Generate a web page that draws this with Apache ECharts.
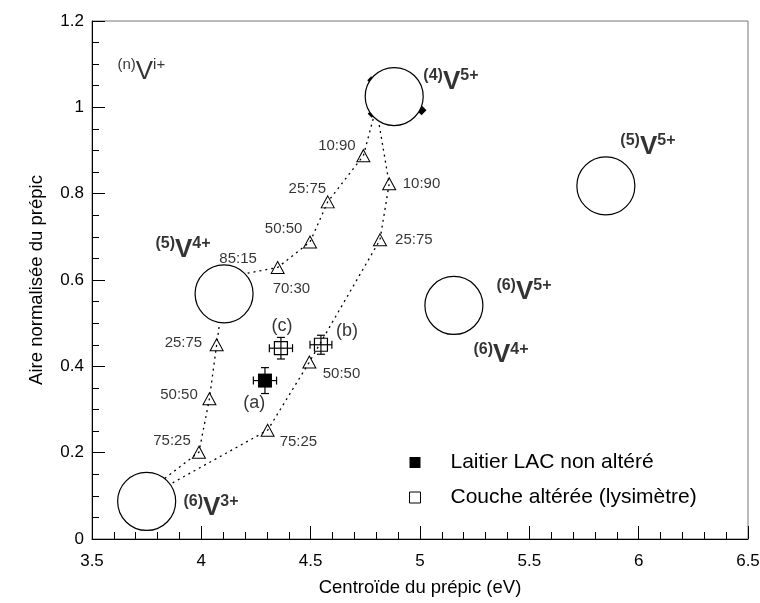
<!DOCTYPE html>
<html><head><meta charset="utf-8">
<script src="https://cdn.jsdelivr.net/npm/echarts@6/dist/echarts.min.js"></script>
<style>html,body{margin:0;padding:0;background:#fff}#c{width:760px;height:603px}</style>
</head><body><div id="c"></div>
<script>
// ---- axes ----
const xRange = [3.5, 6.5];
const yRange = [0, 1.2];
const xStep = 0.5;
const yStep = 0.2;

// ---- reference site circles (centroid eV, normalised area) ----
const siteCentres = [[4.882,1.025],[4.104,0.568],[3.750,0.087],[5.155,0.541],[5.850,0.818]];

// ---- site labels ----
const siteLabelCoord  = ['(n)','(4)','(5)','(5)','(6)','(6)','(6)'];
const siteLabelCharge = ['i+','5+','5+','4+','5+','4+','3+'];
const siteLabelPos = [[3.614,1.083],[5.013,1.060],[5.914,0.908],[3.788,0.670],[5.347,0.572],[5.242,0.426],[3.916,0.0725]];

// ---- mixing lines: end members + computed mixtures ----
const mixStart = [[4.80,1.0],[4.80,1.0],[4.10,0.56]];
const mixEnd   = [[4.15,0.61],[3.79,0.108],[3.78,0.12]];
const mixV5V4 = [[4.741,0.888],[4.578,0.781],[4.497,0.688],[4.349,0.629]];
const mixV5V3 = [[4.859,0.823],[4.817,0.693],[4.494,0.410],[4.303,0.252]];
const mixV4V3 = [[4.070,0.450],[4.037,0.325],[3.989,0.201]];

const ratioText = ['10:90','25:75','50:50','85:15','70:30','10:90','25:75','50:50','75:25','25:75','50:50','75:25'];
const ratioTextPos = [[4.620,0.911],[4.485,0.811],[4.376,0.719],[4.168,0.650],[4.412,0.580],
                      [5.007,0.823],[4.972,0.693],[4.641,0.383],[4.444,0.225],
                      [3.918,0.455],[3.898,0.333],[3.866,0.227]];

// ---- reference compounds partly hidden by the circle ----
const refSmall = [[4.777,1.063],[4.779,0.985]];
const refDiamond = [[5.007,0.993]];

// ---- samples ----
const freshSlag = [[4.291,0.367]];
const freshErr  = [[0.053,0.030]];
const weathered = [[4.364,0.442],[4.547,0.450]];
const weatheredErr = [[0.053,0.025],[0.050,0.022]];
const sampleTags = ['(a)','(c)','(b)'];
const sampleTagPos = [[4.242,0.316],[4.369,0.494],[4.666,0.481]];

const seriesNames = ['Laitier LAC non altéré','Couche altérée (lysimètre)'];

const FONT = 'Liberation Sans, Arial, Helvetica, sans-serif';
const chart = echarts.init(document.getElementById('c'), null, {renderer:'canvas'});

const dotted = {color:'#000', width:1.3, type:[2,4]};
function mixLine(i, pts){
  return {type:'line', data:[mixStart[i]].concat(pts, [mixEnd[i]]), symbol:'none', z:2,
          lineStyle:dotted, silent:true, animation:false};
}
const errData = freshSlag.map((p,i)=>[p[0],p[1],freshErr[i][0],freshErr[i][1]])
  .concat(weathered.map((p,i)=>[p[0],p[1],weatheredErr[i][0],weatheredErr[i][1]]));

function richStyles(v, sup){
  return {
    p:{fontSize:sup, fontWeight:'bold', fontFamily:FONT, color:'#000', verticalAlign:'top', lineHeight:sup+2},
    v:{fontSize:v, fontWeight:'bold', fontFamily:FONT, color:'#000', lineHeight:v+2},
    s:{fontSize:sup, fontWeight:'bold', fontFamily:FONT, color:'#000', verticalAlign:'top', lineHeight:sup+2},
    pn:{fontSize:15, fontFamily:FONT, color:'#000', verticalAlign:'top', lineHeight:17},
    vn:{fontSize:26, fontFamily:FONT, color:'#000', lineHeight:28},
    sn:{fontSize:15, fontFamily:FONT, color:'#000', verticalAlign:'top', lineHeight:17}
  };
}

const option = {
  backgroundColor:'#fff',
  animation:false,
  textStyle:{fontFamily:FONT},
  grid:{left:92, right:12, top:21, bottom:64, show:true, borderColor:'#777', borderWidth:1, outerBoundsMode:'none'},
  xAxis:{type:'value', min:xRange[0], max:xRange[1], interval:xStep,
    axisLine:{lineStyle:{color:'#000', width:1}},
    axisTick:{inside:true, length:13, lineStyle:{color:'#000'}},
    minorTick:{show:true, splitNumber:5, length:7, lineStyle:{color:'#000'}},
    splitLine:{show:false},
    axisLabel:{fontSize:17, color:'#000', margin:14, fontFamily:FONT},
    name:'Centroïde du prépic (eV)', nameLocation:'middle', nameGap:39,
    nameTextStyle:{fontSize:18.5, color:'#000', fontFamily:FONT}},
  yAxis:{type:'value', min:yRange[0], max:yRange[1], interval:yStep,
    axisLine:{show:true, lineStyle:{color:'#000', width:1}},
    axisTick:{show:true, inside:true, length:13, lineStyle:{color:'#000'}},
    minorTick:{show:true, splitNumber:4, length:7, lineStyle:{color:'#000'}},
    splitLine:{show:false},
    axisLabel:{fontSize:17, color:'#000', margin:8, fontFamily:FONT},
    name:'Aire normalisée du prépic', nameLocation:'middle', nameGap:46,
    nameTextStyle:{fontSize:18.5, color:'#000', fontFamily:FONT}},
  legend:{orient:'vertical', left:404, top:447, itemWidth:11, itemHeight:11, itemGap:14,
    selectedMode:false,
    textStyle:{fontSize:21, color:'#000', fontFamily:FONT, padding:[0,0,0,25]},
    itemStyle:{borderWidth:1},
    data:[{name:seriesNames[0], icon:'rect'},{name:seriesNames[1], icon:'rect'}]},
  series:[
    mixLine(0, mixV5V4), mixLine(1, mixV5V3), mixLine(2, mixV4V3),
    {type:'scatter', data:mixV5V4.concat(mixV5V3, mixV4V3), symbol:'triangle', symbolSize:[13,12], z:3,
      itemStyle:{color:'rgba(255,255,255,0)', borderColor:'#000', borderWidth:1, opacity:1}, silent:true},
    {type:'scatter', data:refSmall, symbol:'diamond', symbolSize:8, z:3, itemStyle:{color:'#000', opacity:1}, silent:true},
    {type:'scatter', data:refDiamond, symbol:'diamond', symbolSize:10, z:3, itemStyle:{color:'#000', opacity:1}, silent:true},
    {type:'scatter', data:siteCentres, symbol:'circle', symbolSize:58, z:4,
      itemStyle:{color:'#fff', borderColor:'#000', borderWidth:1.2, opacity:1}, silent:true},
    {type:'custom', data:errData, z:5, silent:true,
      renderItem:function(params, api){
        const x=api.value(0), y=api.value(1), ex=api.value(2), ey=api.value(3);
        const l=api.coord([x-ex,y]), r=api.coord([x+ex,y]), b=api.coord([x,y-ey]), t=api.coord([x,y+ey]);
        const c=4, st={stroke:'#000', lineWidth:1.2};
        return {type:'group', children:[
          {type:'line', shape:{x1:l[0],y1:l[1],x2:r[0],y2:r[1]}, style:st},
          {type:'line', shape:{x1:b[0],y1:b[1],x2:t[0],y2:t[1]}, style:st},
          {type:'line', shape:{x1:l[0],y1:l[1]-c,x2:l[0],y2:l[1]+c}, style:st},
          {type:'line', shape:{x1:r[0],y1:r[1]-c,x2:r[0],y2:r[1]+c}, style:st},
          {type:'line', shape:{x1:b[0]-c,y1:b[1],x2:b[0]+c,y2:b[1]}, style:st},
          {type:'line', shape:{x1:t[0]-c,y1:t[1],x2:t[0]+c,y2:t[1]}, style:st}
        ]};
      }},
    {name:seriesNames[0], type:'scatter', data:freshSlag, symbol:'rect', symbolSize:14, z:6,
      itemStyle:{color:'#000', opacity:1}, silent:true},
    {name:seriesNames[1], type:'scatter', data:weathered, symbol:'rect', symbolSize:13, z:6,
      itemStyle:{color:'rgba(255,255,255,0)', borderColor:'#000', borderWidth:1.2, opacity:1}, silent:true},
    // ratio labels
    {type:'scatter', data:ratioTextPos, symbolSize:1, z:7, itemStyle:{color:'rgba(0,0,0,0)'}, silent:true,
      label:{show:true, position:'inside', fontSize:15, color:'#000', fontFamily:FONT,
        formatter:p=>ratioText[p.dataIndex]}},
    // sample tags
    {type:'scatter', data:sampleTagPos, symbolSize:1, z:7, itemStyle:{color:'rgba(0,0,0,0)'}, silent:true,
      label:{show:true, position:'inside', fontSize:18, color:'#000', fontFamily:FONT,
        formatter:p=>sampleTags[p.dataIndex]}},
    // site labels
    {type:'scatter', data:siteLabelPos, symbolSize:1, z:7, itemStyle:{color:'rgba(0,0,0,0)'}, silent:true,
      label:{show:true, position:'right', distance:0,
        formatter:p=>{
          const i=p.dataIndex;
          if(i===0) return '{pn|'+siteLabelCoord[i]+'}{vn|V}{sn|'+siteLabelCharge[i]+'}';
          return '{p|'+siteLabelCoord[i]+'}{v|V}{s|'+siteLabelCharge[i]+'}';
        },
        rich:richStyles(26,16)}}
  ]
};
chart.setOption(option);
</script></body></html>
